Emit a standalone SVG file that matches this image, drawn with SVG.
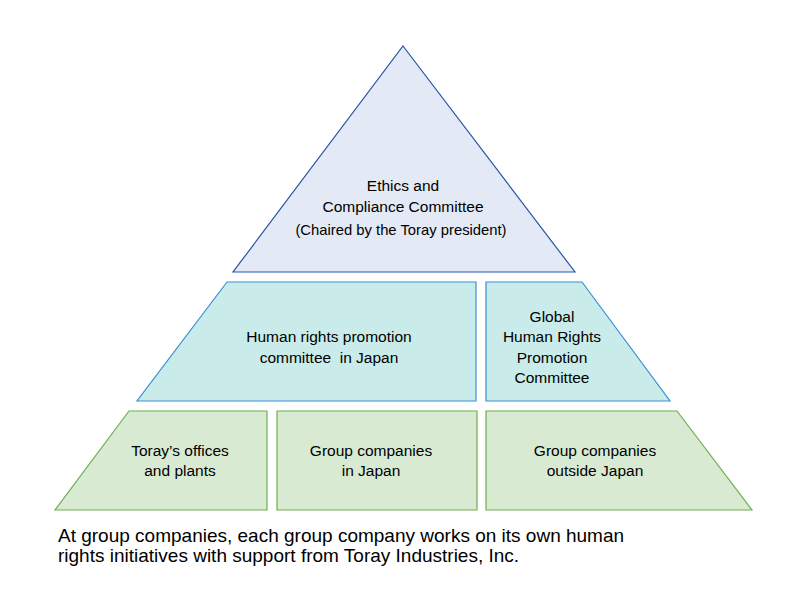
<svg xmlns="http://www.w3.org/2000/svg" width="801" height="593" viewBox="0 0 801 593">
<style>
text{font-family:"Liberation Sans",Arial,Helvetica,sans-serif;fill:#000;text-anchor:middle}
.l{font-size:15.5px}
.s{font-size:14.8px}
.f{font-size:19px;text-anchor:start}
.top{fill:#e3eaf6;stroke:#2456a4;stroke-width:1.2}
.mid{fill:#c9ecea;stroke:#3a8fd6;stroke-width:1.2}
.bot{fill:#d9ead3;stroke:#6ab04c;stroke-width:1.2}
</style>
<rect width="801" height="593" fill="#fff"/>
<g id="ethics">
<polygon class="top" points="403,46 575,272 233,272"/>
<text class="l" x="403" y="191">Ethics and</text>
<text class="l" x="403" y="212">Compliance Committee</text>
<text class="s" x="401" y="235">(Chaired by the Toray president)</text>
</g>
<g id="hr-japan">
<polygon class="mid" points="227,282 476,282 476,401 137,401"/>
<text class="l" x="329" y="342">Human rights promotion</text>
<text class="l" x="329" y="363" xml:space="preserve" style="white-space:pre">committee  in Japan</text>
</g>
<g id="hr-global">
<polygon class="mid" points="486,282 582,282 670,401 486,401"/>
<text class="l" x="552" y="322">Global</text>
<text class="l" x="552" y="342">Human Rights</text>
<text class="l" x="552" y="363">Promotion</text>
<text class="l" x="552" y="383">Committee</text>
</g>
<g id="toray-offices">
<polygon class="bot" points="129,411 267,411 267,510 55,510"/>
<text class="l" x="180" y="456">Toray’s offices</text>
<text class="l" x="180" y="476">and plants</text>
</g>
<g id="group-japan">
<polygon class="bot" points="277,411 477,411 477,510 277,510"/>
<text class="l" x="371" y="456">Group companies</text>
<text class="l" x="371" y="476">in Japan</text>
</g>
<g id="group-outside">
<polygon class="bot" points="486,411 677,411 752,510 486,510"/>
<text class="l" x="595" y="456">Group companies</text>
<text class="l" x="595" y="476">outside Japan</text>
</g>
<g id="connectors"></g>
<text class="f" x="58" y="542">At group companies, each group company works on its own human</text>
<text class="f" x="58" y="562">rights initiatives with support from Toray Industries, Inc.</text>
</svg>
